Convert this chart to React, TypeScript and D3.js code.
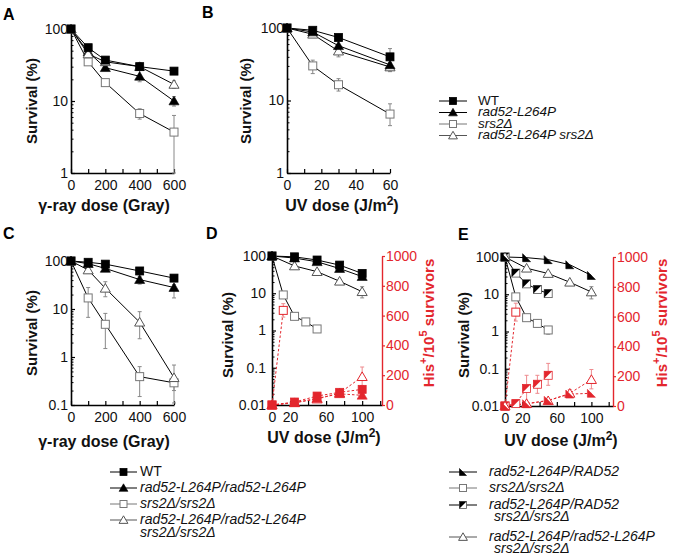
import React, { useEffect, useRef } from "react";
import * as d3 from "d3";

const RED = "#e3262d";
const RED_LIGHT = "#ee8a8e";
const GRAY = "#777";

// ---------- Panel A (gamma, haploid) ----------
const doseA = [0, 100, 200, 400, 600];
const aWT = [100, 55, 37, 30, 26];
const aRad52 = [100, 48, 29, 22, 10];
const aRad52Lo = [null, null, null, 18.5, 8.5];
const aRad52Hi = [null, null, null, 26.5, 11.5];
const aSrs2 = [100, 35, 18, 6.7, 3.7];
const aSrs2Lo = [null, null, null, 5.6, 1];
const aSrs2Hi = [null, null, null, 7.8, 6.3];
const aRadSrs = [100, 45, 35, 30, 17];
const aRadSrsLo = [null, null, null, 27, 15];
const aRadSrsHi = [null, null, null, 34, 19];

// ---------- Panel B (UV, haploid) ----------
const doseB = [0, 15, 30, 60];
const bWT = [100, 93, 74, 40];
const bWTLo = [null, null, null, 30];
const bWTHi = [null, null, null, 52];
const bRad52 = [100, 88, 57, 31];
const bSrs2 = [100, 30, 16.5, 6.5];
const bSrs2Lo = [null, 23.5, 13.5, 4.5];
const bSrs2Hi = [null, 36, 20, 9];
const bRadSrs = [100, 82, 48, 29];
const bRadSrsLo = [null, 75, 40, 25];
const bRadSrsHi = [null, 90, 55, 33];

// ---------- Panel C (gamma, diploid) ----------
const doseC = [0, 100, 200, 400, 600];
const cWT = [100, 94, 86, 62, 44];
const cRad = [100, 88, 70, 41, 28];
const cRadLo = [null, null, null, 33, 17];
const cRadHi = [null, null, null, 48, 32];
const cSrs = [100, 17, 4.8, 0.39, 0.29];
const cSrsLo = [null, 6.7, 1.5, 0.15, 0.11];
const cSrsHi = [null, 28, 8.1, 0.63, 0.29];
const cRadSrs = [100, 65, 27, 5.3, 0.37];
const cRadSrsLo = [null, null, 18, 2.4, 0.2];
const cRadSrsHi = [null, null, 37, 8.8, 0.68];

// ---------- Panel D (UV, diploid) ----------
const doseD = [0, 25, 50, 75, 100];
const doseDS = [0, 12.5, 25, 37.5, 50];
const dWT = [100, 95, 78, 57, 34];
const dRad = [100, 88, 70, 46, 28];
const dRadSrs = [100, 54, 38, 21, 11];
const dRadSrsLo = [null, null, null, null, 7.5];
const dRadSrsHi = [null, null, null, null, 15];
const dSrs = [100, 9, 2.4, 1.7, 1.1];
const doseDHisS = [0, 12.5];
const dSrsHis = [0, 635];
const dSrsHisLo = [null, 590];
const dSrsHisHi = [null, 680];
const dWTHis = [0, 20, 60, 85, 105];
const dWTHisLo = [null, null, null, null, 70];
const dWTHisHi = [null, null, null, null, 130];
const dRadHis = [0, 15, 45, 75, 65];
const dRadSrsHis = [0, 15, 40, 80, 190];
const dRadSrsHisLo = [null, null, null, 60, 130];
const dRadSrsHisHi = [null, null, null, 100, 255];

// ---------- Panel E (UV, heterozygous) ----------
const doseE = [0, 25, 50, 75, 100];
const doseES = [0, 12.5, 25, 37.5, 50];
const eRadRAD = [100, 96, 85, 62, 32];
const eRadSrs = [100, 50, 36, 21, 11.5];
const eRadSrsLo = [null, null, null, null, 7.5];
const eRadSrsHi = [null, null, null, null, 16];
const eRADSrs = [100, 37, 19, 13.5, 10.4];
const eSrs = [100, 8.5, 2.35, 1.65, 1.1];
const eSrsLo = [null, null, null, 1.3, 0.85];
const eSrsHi = [null, null, null, 2.1, 1.3];
const doseEHisS = [0, 12.5];
const eSrsHis = [0, 630];
const eSrsHisLo = [null, 570];
const eSrsHisHi = [null, 690];
const eRADSrsHis = [0, 16, 117, 146, 206];
const eRADSrsHisLo = [null, null, 27, 85, 139];
const eRADSrsHisHi = [null, null, 206, 206, 286];
const eRadRADHis = [0, 15, 38, 80, 85];
const eRadSrsHis = [0, 16, 35, 85, 177];
const eRadSrsHisLo = [null, null, null, 60, 115];
const eRadSrsHisHi = [null, null, null, 110, 245];

// ---------- ticks ----------
const gammaTicks = [0, 100, 200, 300, 400, 500, 600];
const gammaLabels = [0, 200, 400, 600];
const uvTicksB = [0, 10, 20, 30, 40, 50, 60];
const uvLabelsB = [0, 20, 40, 60];
const uvTicksDE = [0, 20, 40, 60, 80, 100, 120];
const uvLabelsDE = [0, 20, 60, 100];
const hisTicks = [0, 200, 400, 600, 800, 1000];

type Mk = "sqFill" | "sqOpen" | "triFill" | "triOpen" | "halfLL" | "halfUL";
type Series = {
  x: number[];
  y: number[];
  mk: Mk;
  red?: boolean;
  right?: boolean;
  lo?: (number | null)[];
  hi?: (number | null)[];
};

function drawMarker(g: any, mk: Mk, cx: number, cy: number, red: boolean, size = 8) {
  const s = size / 2;
  const fillC = red ? RED : "#000";
  const openC = red ? RED : GRAY;
  if (mk === "sqFill") {
    g.append("rect").attr("x", cx - s).attr("y", cy - s).attr("width", size).attr("height", size)
      .attr("fill", fillC).attr("stroke", fillC).attr("stroke-width", 0.8);
  } else if (mk === "sqOpen") {
    g.append("rect").attr("x", cx - s).attr("y", cy - s).attr("width", size).attr("height", size)
      .attr("fill", "#fff").attr("stroke", openC).attr("stroke-width", 1);
  } else if (mk === "triFill" || mk === "triOpen") {
    const t = s * 1.2;
    const p = `M${cx},${cy - t}L${cx + t * 1.05},${cy + t * 0.8}L${cx - t * 1.05},${cy + t * 0.8}Z`;
    if (mk === "triFill") g.append("path").attr("d", p).attr("fill", fillC).attr("stroke", fillC).attr("stroke-width", 0.6);
    else g.append("path").attr("d", p).attr("fill", "#fff").attr("stroke", red ? RED : "#555").attr("stroke-width", 1);
  } else if (mk === "halfLL") {
    g.append("path").attr("d", `M${cx - s},${cy - s}L${cx - s},${cy + s}L${cx + s},${cy + s}Z`)
      .attr("fill", fillC).attr("stroke", fillC).attr("stroke-width", 0.6);
  } else if (mk === "halfUL") {
    g.append("rect").attr("x", cx - s).attr("y", cy - s).attr("width", size).attr("height", size)
      .attr("fill", "#fff").attr("stroke", red ? RED : "#555").attr("stroke-width", 0.8);
    g.append("path").attr("d", `M${cx - s},${cy - s}L${cx + s},${cy - s}L${cx - s},${cy + s}Z`)
      .attr("fill", fillC);
  }
}

type PanelCfg = {
  xr: [number, number];
  yr: [number, number];
  xDom: [number, number];
  yDom: [number, number];
  xTicks: number[];
  xLabels: number[];
  yMajor: number[];
  yPad: number;
  hasRight?: boolean;
  series: Series[];
};

function drawPanel(svg: any, cfg: PanelCfg) {
  const x = d3.scaleLinear().domain(cfg.xDom).range(cfg.xr);
  const y = d3.scaleLog().domain(cfg.yDom).range(cfg.yr);
  const yR = d3.scaleLinear().domain([0, 1000]).range(cfg.yr);
  const g = svg.append("g");

  // minor log ticks
  const minors: number[] = [];
  for (let e = Math.log10(cfg.yDom[0]); e < Math.log10(cfg.yDom[1]); e++) {
    for (let m = 2; m <= 9; m++) minors.push(m * Math.pow(10, e));
  }
  const gMinor = g.append("g").attr("transform", `translate(${cfg.xr[0]},0)`)
    .call(d3.axisLeft(y).tickValues(minors).tickSizeInner(-2.5).tickSizeOuter(0).tickFormat(() => ""));
  gMinor.select(".domain").remove();
  gMinor.selectAll("line").attr("stroke-width", 1);

  // x axis
  const gx = g.append("g").attr("transform", `translate(0,${cfg.yr[0]})`)
    .call(d3.axisBottom(x).tickValues(cfg.xTicks).tickSizeInner(-4).tickSizeOuter(0).tickPadding(7)
      .tickFormat((d: any) => (cfg.xLabels.includes(+d) ? String(d) : "")));
  gx.select(".domain").attr("stroke-width", 1.6);
  gx.selectAll("line").attr("stroke-width", 1.2);
  gx.selectAll("text").attr("font-size", 14).attr("font-family", "Arial, 'Liberation Sans', sans-serif").attr("fill", "#111");

  // y axis
  const gy = g.append("g").attr("transform", `translate(${cfg.xr[0]},0)`)
    .call(d3.axisLeft(y).tickValues(cfg.yMajor).tickSizeInner(-4).tickSizeOuter(0).tickPadding(cfg.yPad)
      .tickFormat((d: any) => String(+d)));
  gy.select(".domain").attr("stroke-width", 1.6);
  gy.selectAll("line").attr("stroke-width", 1.2);
  gy.selectAll("text").attr("font-size", 14).attr("font-family", "Arial, 'Liberation Sans', sans-serif").attr("fill", "#111");

  if (cfg.hasRight) {
    const gr = g.append("g").attr("transform", `translate(${cfg.xr[1]},0)`)
      .call(d3.axisRight(yR).tickValues(hisTicks).tickSizeInner(3).tickSizeOuter(0).tickPadding(1)
        .tickFormat((d: any) => String(+d)));
    gr.select(".domain").attr("stroke", RED).attr("stroke-width", 1.4);
    gr.selectAll("line").attr("stroke", RED).attr("stroke-width", 1.2);
    gr.selectAll("text").attr("font-size", 14).attr("fill", RED).attr("font-family", "Arial, 'Liberation Sans', sans-serif");
  }

  const px = (s: Series, i: number) => x(s.x[i]);
  const py = (s: Series, v: number) => (s.right ? yR(v) : y(v));

  // lines
  cfg.series.forEach((s) => {
    const line = d3.line<number>().x((_, i) => px(s, i)).y((v) => py(s, v));
    g.append("path").attr("d", line(s.y)).attr("fill", "none")
      .attr("stroke", s.red ? RED : "#000")
      .attr("stroke-width", 1)
      .attr("stroke-dasharray", s.red ? "2.5,2" : null);
  });
  // error bars
  cfg.series.forEach((s) => {
    if (!s.lo || !s.hi) return;
    s.y.forEach((_, i) => {
      const lo = s.lo![i], hi = s.hi![i];
      if (lo == null || hi == null) return;
      const cx = px(s, i);
      const col = s.red ? RED_LIGHT : "#888";
      g.append("line").attr("x1", cx).attr("x2", cx).attr("y1", py(s, lo)).attr("y2", py(s, hi))
        .attr("stroke", col).attr("stroke-width", 1);
      [lo, hi].forEach((v) => {
        g.append("line").attr("x1", cx - 2).attr("x2", cx + 2).attr("y1", py(s, v)).attr("y2", py(s, v))
          .attr("stroke", col).attr("stroke-width", 1);
      });
    });
  });
  // markers
  cfg.series.forEach((s) => {
    s.y.forEach((v, i) => drawMarker(g, s.mk, px(s, i), py(s, v), !!s.red));
  });
}

const FONT = "Arial, 'Liberation Sans', sans-serif";

function App() {
  const ref = useRef<SVGSVGElement>(null);
  useEffect(() => {
    const svg = d3.select(ref.current);
    svg.selectAll("*").remove();

    const panels: PanelCfg[] = [
      {
        xr: [71, 174], yr: [173, 29], xDom: [0, 600], yDom: [1, 100],
        xTicks: gammaTicks, xLabels: gammaLabels, yMajor: [1, 10, 100], yPad: 3,
        series: [
          { x: doseA, y: aSrs2, mk: "sqOpen", lo: aSrs2Lo, hi: aSrs2Hi },
          { x: doseA, y: aRad52, mk: "triFill", lo: aRad52Lo, hi: aRad52Hi },
          { x: doseA, y: aRadSrs, mk: "triOpen", lo: aRadSrsLo, hi: aRadSrsHi },
          { x: doseA, y: aWT, mk: "sqFill" },
        ],
      },
      {
        xr: [287, 390], yr: [173, 28], xDom: [0, 60], yDom: [1, 100],
        xTicks: uvTicksB, xLabels: uvLabelsB, yMajor: [1, 10, 100], yPad: 3,
        series: [
          { x: doseB, y: bSrs2, mk: "sqOpen", lo: bSrs2Lo, hi: bSrs2Hi },
          { x: doseB, y: bRadSrs, mk: "triOpen", lo: bRadSrsLo, hi: bRadSrsHi },
          { x: doseB, y: bRad52, mk: "triFill" },
          { x: doseB, y: bWT, mk: "sqFill", lo: bWTLo, hi: bWTHi },
        ],
      },
      {
        xr: [71, 174], yr: [405, 261], xDom: [0, 600], yDom: [0.1, 100],
        xTicks: gammaTicks, xLabels: gammaLabels, yMajor: [0.1, 1, 10, 100], yPad: 3,
        series: [
          { x: doseC, y: cSrs, mk: "sqOpen", lo: cSrsLo, hi: cSrsHi },
          { x: doseC, y: cRadSrs, mk: "triOpen", lo: cRadSrsLo, hi: cRadSrsHi },
          { x: doseC, y: cRad, mk: "triFill", lo: cRadLo, hi: cRadHi },
          { x: doseC, y: cWT, mk: "sqFill" },
        ],
      },
      {
        xr: [272, 382], yr: [405, 256], xDom: [0, 122], yDom: [0.01, 100],
        xTicks: uvTicksDE, xLabels: uvLabelsDE, yMajor: [0.01, 0.1, 1, 10, 100], yPad: 6, hasRight: true,
        series: [
          { x: doseDHisS, y: dSrsHis, mk: "sqOpen", red: true, right: true, lo: dSrsHisLo, hi: dSrsHisHi },
          { x: doseD, y: dRadSrsHis, mk: "triOpen", red: true, right: true, lo: dRadSrsHisLo, hi: dRadSrsHisHi },
          { x: doseD, y: dRadHis, mk: "triFill", red: true, right: true },
          { x: doseD, y: dWTHis, mk: "sqFill", red: true, right: true, lo: dWTHisLo, hi: dWTHisHi },
          { x: doseDS, y: dSrs, mk: "sqOpen" },
          { x: doseD, y: dRadSrs, mk: "triOpen", lo: dRadSrsLo, hi: dRadSrsHi },
          { x: doseD, y: dRad, mk: "triFill" },
          { x: doseD, y: dWT, mk: "sqFill" },
        ],
      },
      {
        xr: [505, 613], yr: [406, 257], xDom: [0, 125], yDom: [0.01, 100],
        xTicks: uvTicksDE, xLabels: uvLabelsDE, yMajor: [0.01, 0.1, 1, 10, 100], yPad: 6, hasRight: true,
        series: [
          { x: doseEHisS, y: eSrsHis, mk: "sqOpen", red: true, right: true, lo: eSrsHisLo, hi: eSrsHisHi },
          { x: doseES, y: eRADSrsHis, mk: "halfUL", red: true, right: true, lo: eRADSrsHisLo, hi: eRADSrsHisHi },
          { x: doseE, y: eRadSrsHis, mk: "triOpen", red: true, right: true, lo: eRadSrsHisLo, hi: eRadSrsHisHi },
          { x: doseE, y: eRadRADHis, mk: "halfLL", red: true, right: true },
          { x: doseES, y: eSrs, mk: "sqOpen", lo: eSrsLo, hi: eSrsHi },
          { x: doseES, y: eRADSrs, mk: "halfUL" },
          { x: doseE, y: eRadSrs, mk: "triOpen", lo: eRadSrsLo, hi: eRadSrsHi },
          { x: doseE, y: eRadRAD, mk: "halfLL" },
        ],
      },
    ];
    panels.forEach((p) => drawPanel(svg, p));

    const txt = svg.append("g").attr("font-family", FONT);

    // panel letters
    [["A", 3, 20], ["B", 202, 18], ["C", 3, 239], ["D", 206, 239], ["E", 458, 240]].forEach(([t, xx, yy]) => {
      txt.append("text").attr("x", xx).attr("y", yy).attr("font-size", 16).attr("font-weight", "bold").text(t as string);
    });

    const yTitle = (xx: number, yy: number, color = "#111") =>
      txt.append("text").attr("transform", `translate(${xx},${yy}) rotate(-90)`).attr("text-anchor", "middle")
        .attr("dominant-baseline", "middle").attr("font-size", 15).attr("font-weight", "bold").attr("fill", color);

    yTitle(33, 101).text("Survival (%)");
    yTitle(247, 101).text("Survival (%)");
    yTitle(33, 333).text("Survival (%)");
    yTitle(229, 335).text("Survival (%)");
    yTitle(465, 335).text("Survival (%)");

    const hisTitle = (xx: number, yy: number) => {
      const t = yTitle(xx, yy, RED);
      t.append("tspan").text("His");
      t.append("tspan").attr("dy", -6).attr("font-size", 11).text("+");
      t.append("tspan").attr("dy", 6).text("/10");
      t.append("tspan").attr("dy", -6).attr("font-size", 11).text("5");
      t.append("tspan").attr("dy", 6).text(" survivors");
    };
    hisTitle(430, 323);
    hisTitle(663, 323);

    const xTitleGamma = (xx: number, yy: number) =>
      txt.append("text").attr("x", xx).attr("y", yy).attr("text-anchor", "middle").attr("font-size", 16)
        .attr("font-weight", "bold").attr("fill", "#111").text("\u03b3-ray dose (Gray)");
    xTitleGamma(104, 211);
    xTitleGamma(104, 447);

    const xTitleUV = (xx: number, yy: number) => {
      const t = txt.append("text").attr("x", xx).attr("y", yy).attr("text-anchor", "middle").attr("font-size", 16)
        .attr("font-weight", "bold").attr("fill", "#111");
      t.append("tspan").text("UV dose (J/m");
      t.append("tspan").attr("dy", -6).attr("font-size", 12).text("2");
      t.append("tspan").attr("dy", 6).text(")");
    };
    xTitleUV(342, 211);
    xTitleUV(324, 443);
    xTitleUV(561, 446);

    // legends
    const legendRow = (lx0: number, lx1: number, yy: number, mk: Mk, lineCol: string) => {
      svg.append("line").attr("x1", lx0).attr("x2", lx1).attr("y1", yy).attr("y2", yy)
        .attr("stroke", lineCol).attr("stroke-width", 1);
      drawMarker(svg.append("g"), mk, (lx0 + lx1) / 2, yy, false, 7);
    };
    const legendText = (xx: number, yy: number, s: string, italic = true, fs = 14.5) =>
      txt.append("text").attr("x", xx).attr("y", yy).attr("dominant-baseline", "middle").attr("font-size", fs)
        .attr("font-style", italic ? "italic" : "normal").attr("fill", "#111").text(s);

    // top legend (A, B)
    const topRows: [number, Mk, string, string, boolean][] = [
      [101, "sqFill", "#000", "WT", false],
      [112.5, "triFill", "#000", "rad52-L264P", true],
      [124, "sqOpen", GRAY, "srs2\u0394", true],
      [135.5, "triOpen", "#555", "rad52-L264P srs2\u0394", true],
    ];
    topRows.forEach(([yy, mk, lc, s, it]) => {
      legendRow(439, 467, yy, mk, lc);
      legendText(478, yy, s, it, 13.5);
    });

    // bottom-left legend (C, D)
    const cdRows: [number, Mk, string, string[], boolean][] = [
      [472, "sqFill", "#000", ["WT"], false],
      [488, "triFill", "#000", ["rad52-L264P/rad52-L264P"], true],
      [504, "sqOpen", GRAY, ["srs2\u0394/srs2\u0394"], true],
      [520, "triOpen", "#555", ["rad52-L264P/rad52-L264P", "srs2\u0394/srs2\u0394"], true],
    ];
    cdRows.forEach(([yy, mk, lc, lines, it]) => {
      legendRow(110, 137, yy, mk, lc);
      lines.forEach((s, i) => legendText(140, yy + i * 13, s, it, 14));
    });

    // bottom-right legend (E)
    const eRows: [number, Mk, string, string[]][] = [
      [472, "halfLL", "#000", ["rad52-L264P/RAD52"]],
      [488, "sqOpen", GRAY, ["srs2\u0394/srs2\u0394"]],
      [505, "halfUL", "#000", ["rad52-L264P/RAD52", "srs2\u0394/srs2\u0394"]],
      [537, "triOpen", "#555", ["rad52-L264P/rad52-L264P", "srs2\u0394/srs2\u0394"]],
    ];
    eRows.forEach(([yy, mk, lc, lines]) => {
      legendRow(449, 477, yy, mk, lc);
      lines.forEach((s, i) => legendText(i === 0 ? 489 : 494, yy + i * 12.5, s, true, 14));
    });
  }, []);

  return (
    <svg
      ref={ref}
      width={673}
      height={557}
      style={{ position: "absolute", left: 0, top: 0, background: "#fff" }}
      fontFamily={FONT}
    />
  );
}

export default App;
